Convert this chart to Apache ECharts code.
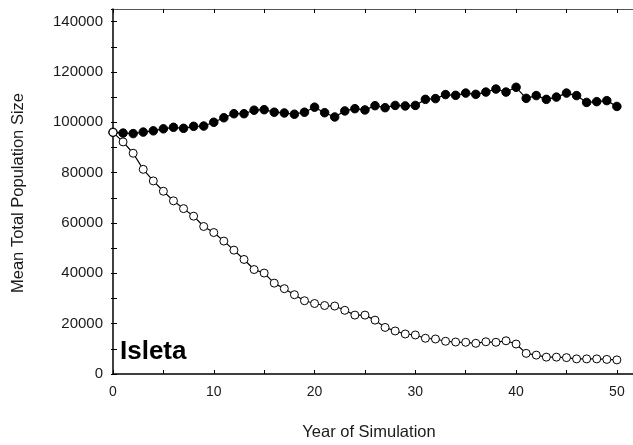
<!DOCTYPE html>
<html>
<head>
<meta charset="utf-8">
<script src="https://cdn.jsdelivr.net/npm/echarts@6/dist/echarts.min.js"></script>
<style>
html,body{margin:0;padding:0;background:#fff;}
#chart{width:633px;height:445px;}
</style>
</head>
<body>
<div id="chart"></div>
<script>
var years = [0,1,2,3,4,5,6,7,8,9,10,11,12,13,14,15,16,17,18,19,20,21,22,23,24,25,26,27,28,29,30,31,32,33,34,35,36,37,38,39,40,41,42,43,44,45,46,47,48,49,50];
var filledValues = [96000,95700,95500,96100,96600,97400,98000,97600,98400,98500,100000,101800,103400,103400,104800,105000,104000,103700,103200,104000,106000,103800,102100,104500,105400,104900,106600,105800,106700,106500,106700,109100,109400,111000,110700,111600,111100,112000,113200,112000,113900,109500,110600,109100,110000,111600,110600,107900,108200,108600,106300];
var openValues = [96000,92200,87700,81300,76700,72600,68800,65700,62700,58600,56200,52800,49200,45500,41500,40100,36100,33900,31500,29100,28000,27200,27000,25300,23400,23400,21400,18500,17100,15900,15500,14200,13900,13000,12700,12600,12200,12800,12600,13200,11900,8200,7500,6700,6700,6500,6000,6000,6000,5800,5600];
var yTickLabels = [0,20000,40000,60000,80000,100000,120000,140000];
var xTickLabels = [0,10,20,30,40,50];
var yTitle = 'Mean Total Population Size';
var xTitle = 'Year of Simulation';
var panelLabel = 'Isleta';

function pairs(vals){ return years.map(function(y,i){ return [y, vals[i]]; }); }

var FONT = '"Liberation Sans", Arial, sans-serif';
var TXT = '#1a1a1a';
var chart = echarts.init(document.getElementById('chart'), null, {renderer:'canvas'});
chart.setOption({
  animation:false,
  backgroundColor:'#fff',
  grid:{left:113, top:9, width:520, height:365, containLabel:false},
  xAxis:[{
    type:'value', min:0, max:51.6, interval:5, position:'bottom',
    axisLine:{show:true, onZero:false, lineStyle:{color:'#000', width:1.5}},
    axisTick:{show:true, inside:true, length:4, lineStyle:{color:'#000', width:1}},
    axisLabel:{show:true, margin:11, color:TXT, fontSize:14, fontFamily:FONT, showMaxLabel:false,
      formatter:function(v){ return xTickLabels.indexOf(v)>=0 ? String(v) : ''; }},
    splitLine:{show:false}
  },{
    type:'value', min:0, max:51.6, interval:5, position:'top',
    axisLine:{show:true, onZero:false, lineStyle:{color:'#555', width:1}},
    axisTick:{show:true, inside:true, length:4, lineStyle:{color:'#000', width:1}},
    axisLabel:{show:false}, splitLine:{show:false}
  }],
  yAxis:[{
    type:'value', min:0, max:145000, interval:10000, position:'left',
    axisLine:{show:true, onZero:false, lineStyle:{color:'#000', width:1.5}},
    axisTick:{show:true, inside:true, length:4, lineStyle:{color:'#000', width:1}},
    axisLabel:{show:true, margin:10, color:TXT, fontSize:15, fontFamily:FONT, showMaxLabel:false,
      formatter:function(v){ return yTickLabels.indexOf(v)>=0 ? String(v) : ''; }},
    splitLine:{show:false}
  },{
    type:'value', min:0, max:145000, interval:10000, position:'right',
    axisLine:{show:false},
    axisTick:{show:true, inside:true, length:2, lineStyle:{color:'#000', width:1}},
    axisLabel:{show:false}, splitLine:{show:false}
  }],
  series:[{
    type:'line', data:pairs(filledValues), symbol:'circle', symbolSize:8.5,
    lineStyle:{color:'#000', width:1.2}, itemStyle:{color:'#000', borderColor:'#000', borderWidth:1},
    z:2
  },{
    type:'line', data:pairs(openValues), symbol:'circle', symbolSize:8,
    lineStyle:{color:'#000', width:1.2}, itemStyle:{color:'#fff', borderColor:'#000', borderWidth:1},
    z:3
  }],
  graphic:[
    {type:'text', x:18, y:193, rotation:Math.PI/2,
      style:{text:yTitle, textAlign:'center', textVerticalAlign:'middle', fill:TXT, font:'16.5px '+FONT}},
    {type:'text', x:369, y:432,
      style:{text:xTitle, textAlign:'center', textVerticalAlign:'middle', fill:TXT, font:'16.5px '+FONT}},
    {type:'text', x:120, y:352, z:10,
      style:{text:panelLabel, textAlign:'left', textVerticalAlign:'middle', fill:'#000', font:'bold 26px '+FONT}}
  ]
});
</script>
</body>
</html>
